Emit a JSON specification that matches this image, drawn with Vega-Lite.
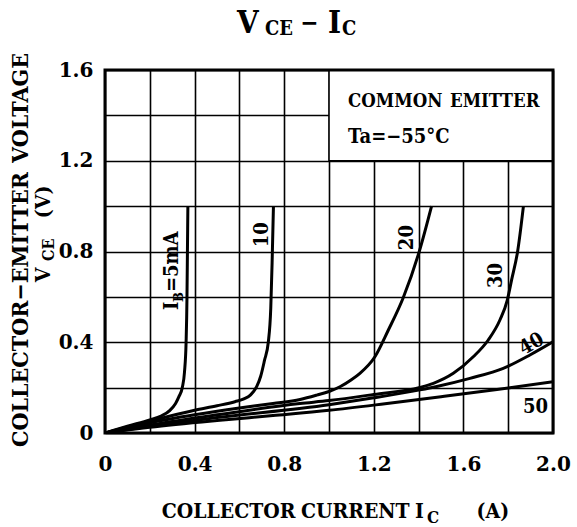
{
  "$schema": "https://vega.github.io/schema/vega-lite/v6.json",
  "width": 448,
  "height": 363,
  "autosize": {"type": "none"},
  "padding": {"left": 105, "top": 70, "right": 24, "bottom": 94},
  "background": "white",
  "config": {
    "view": {"stroke": null},
    "font": "DejaVu Serif Condensed, DejaVu Serif",
    "text": {"font": "DejaVu Serif Condensed, DejaVu Serif", "fontWeight": "bold", "color": "black"}
  },
  "datasets": {
    "curves": [
      {"ib": "5", "x": 0, "y": 0}, {"ib": "5", "x": 0.1, "y": 0.03}, {"ib": "5", "x": 0.2, "y": 0.058}, {"ib": "5", "x": 0.25, "y": 0.075}, {"ib": "5", "x": 0.29, "y": 0.1}, {"ib": "5", "x": 0.315, "y": 0.13}, {"ib": "5", "x": 0.33, "y": 0.16}, {"ib": "5", "x": 0.345, "y": 0.2}, {"ib": "5", "x": 0.355, "y": 0.27}, {"ib": "5", "x": 0.362, "y": 0.4}, {"ib": "5", "x": 0.366, "y": 0.6}, {"ib": "5", "x": 0.368, "y": 0.8}, {"ib": "5", "x": 0.37, "y": 1.0},
      {"ib": "10", "x": 0, "y": 0}, {"ib": "10", "x": 0.2, "y": 0.052}, {"ib": "10", "x": 0.4, "y": 0.1}, {"ib": "10", "x": 0.5, "y": 0.12}, {"ib": "10", "x": 0.58, "y": 0.138}, {"ib": "10", "x": 0.62, "y": 0.15}, {"ib": "10", "x": 0.65, "y": 0.168}, {"ib": "10", "x": 0.677, "y": 0.204}, {"ib": "10", "x": 0.695, "y": 0.25}, {"ib": "10", "x": 0.712, "y": 0.32}, {"ib": "10", "x": 0.729, "y": 0.4}, {"ib": "10", "x": 0.74, "y": 0.55}, {"ib": "10", "x": 0.746, "y": 0.75}, {"ib": "10", "x": 0.752, "y": 1.0},
      {"ib": "20", "x": 0, "y": 0}, {"ib": "20", "x": 0.2, "y": 0.045}, {"ib": "20", "x": 0.4, "y": 0.08}, {"ib": "20", "x": 0.6, "y": 0.11}, {"ib": "20", "x": 0.75, "y": 0.13}, {"ib": "20", "x": 0.871, "y": 0.148}, {"ib": "20", "x": 0.945, "y": 0.167}, {"ib": "20", "x": 1.0, "y": 0.183}, {"ib": "20", "x": 1.049, "y": 0.204}, {"ib": "20", "x": 1.1, "y": 0.235}, {"ib": "20", "x": 1.138, "y": 0.263}, {"ib": "20", "x": 1.205, "y": 0.336}, {"ib": "20", "x": 1.265, "y": 0.454}, {"ib": "20", "x": 1.33, "y": 0.593}, {"ib": "20", "x": 1.403, "y": 0.8}, {"ib": "20", "x": 1.458, "y": 1.0},
      {"ib": "30", "x": 0, "y": 0}, {"ib": "30", "x": 0.2, "y": 0.035}, {"ib": "30", "x": 0.5, "y": 0.08}, {"ib": "30", "x": 0.87, "y": 0.13}, {"ib": "30", "x": 1.0, "y": 0.143}, {"ib": "30", "x": 1.2, "y": 0.17}, {"ib": "30", "x": 1.406, "y": 0.201}, {"ib": "30", "x": 1.466, "y": 0.219}, {"ib": "30", "x": 1.555, "y": 0.263}, {"ib": "30", "x": 1.644, "y": 0.336}, {"ib": "30", "x": 1.711, "y": 0.41}, {"ib": "30", "x": 1.763, "y": 0.498}, {"ib": "30", "x": 1.796, "y": 0.586}, {"ib": "30", "x": 1.815, "y": 0.674}, {"ib": "30", "x": 1.842, "y": 0.8}, {"ib": "30", "x": 1.868, "y": 1.0},
      {"ib": "40", "x": 0, "y": 0}, {"ib": "40", "x": 0.2, "y": 0.03}, {"ib": "40", "x": 0.5, "y": 0.068}, {"ib": "40", "x": 1.0, "y": 0.125}, {"ib": "40", "x": 1.2, "y": 0.155}, {"ib": "40", "x": 1.406, "y": 0.19}, {"ib": "40", "x": 1.481, "y": 0.205}, {"ib": "40", "x": 1.629, "y": 0.241}, {"ib": "40", "x": 1.778, "y": 0.285}, {"ib": "40", "x": 1.897, "y": 0.344}, {"ib": "40", "x": 2.0, "y": 0.402},
      {"ib": "50", "x": 0, "y": 0}, {"ib": "50", "x": 0.2, "y": 0.025}, {"ib": "50", "x": 0.5, "y": 0.055}, {"ib": "50", "x": 0.75, "y": 0.077}, {"ib": "50", "x": 1.0, "y": 0.1}, {"ib": "50", "x": 1.25, "y": 0.129}, {"ib": "50", "x": 1.5, "y": 0.16}, {"ib": "50", "x": 1.75, "y": 0.192}, {"ib": "50", "x": 2.0, "y": 0.226}
    ],
    "box": [{"x": 1.0, "x2": 2.0, "y": 1.2, "y2": 1.6}],
    "frame": [{"x": 0, "x2": 2.0, "y": 0, "y2": 1.6}],
    "titleMain": [{"x": 0.589, "y": 1.762, "t": "V"}, {"x": 0.996, "y": 1.762, "t": "I"}],
    "titleDash": [{"x": 0.872, "y": 1.772, "t": "−"}],
    "titleSub": [{"x": 0.714, "y": 1.753, "t": "CE"}, {"x": 1.058, "y": 1.753, "t": "C"}],
    "flat18": [{"x": 1.085, "y": 1.436, "t": "COMMON"}, {"x": 1.54, "y": 1.436, "t": "EMITTER"}],
    "flat20": [{"x": 1.085, "y": 1.278, "t": "Ta=−55°C"}, {"x": 1.866, "y": 0.088, "t": "50"}],
    "rot20": [{"x": 0.326, "y": 0.542, "t": "I"}, {"x": 0.326, "y": 0.621, "t": "=5mA"}, {"x": 0.728, "y": 0.819, "t": "10"}, {"x": 1.375, "y": 0.806, "t": "20"}, {"x": 1.772, "y": 0.639, "t": "30"}],
    "rot13": [{"x": 0.346, "y": 0.577, "t": "B"}],
    "tilt": [{"x": 1.904, "y": 0.392, "t": "40"}],
    "xTitle": [{"x": 0.253, "y": -0.374, "t": "COLLECTOR"}, {"x": 0.875, "y": -0.374, "t": "CURRENT"}, {"x": 1.384, "y": -0.374, "t": "I"}, {"x": 1.659, "y": -0.374, "t": "(A)"}],
    "xTitleSub": [{"x": 1.4375, "y": -0.396, "t": "C"}],
    "yTitle": [{"x": -0.342, "y": -0.062, "t": "COLLECTOR−EMITTER"}, {"x": -0.342, "y": 1.19, "t": "VOLTAGE"}],
    "yTitle2": [{"x": -0.246, "y": 0.665, "t": "V"}, {"x": -0.246, "y": 0.947, "t": "(V)"}],
    "yTitleSub": [{"x": -0.228, "y": 0.758, "t": "CE"}]
  },
  "encoding": {
    "x": {
      "field": "x", "type": "quantitative",
      "scale": {"domain": [0, 2], "nice": false, "zero": false},
      "axis": {
        "values": [0, 0.2, 0.4, 0.6, 0.8, 1.0, 1.2, 1.4, 1.6, 1.8, 2.0],
        "grid": true, "gridColor": "black", "gridWidth": 1.6, "gridOpacity": 1,
        "domain": false, "ticks": false, "tickSize": 0,
        "labelExpr": "datum.value == 0 ? '0' : (round(datum.value * 10) % 4 == 0 ? format(datum.value, '.1f') : '')",
        "labelFont": "DejaVu Serif", "labelFontSize": 20, "labelFontWeight": "bold", "labelColor": "black",
        "labelPadding": 21, "labelFlush": false, "labelOverlap": false, "title": null
      }
    },
    "y": {
      "field": "y", "type": "quantitative",
      "scale": {"domain": [0, 1.6], "nice": false, "zero": false},
      "axis": {
        "values": [0, 0.2, 0.4, 0.6, 0.8, 1.0, 1.2, 1.4, 1.6],
        "grid": true, "gridColor": "black", "gridWidth": 1.6, "gridOpacity": 1,
        "domain": false, "ticks": false, "tickSize": 0,
        "labelExpr": "datum.value == 0 ? '0' : (round(datum.value * 10) % 4 == 0 ? format(datum.value, '.1f') : '')",
        "labelFont": "DejaVu Serif", "labelFontSize": 20, "labelFontWeight": "bold", "labelColor": "black",
        "labelPadding": 12, "labelFlush": false, "labelOverlap": false, "title": null
      }
    }
  },
  "layer": [
    {
      "data": {"name": "box"},
      "mark": {"type": "rect", "fill": "white", "stroke": "black", "strokeWidth": 1.6},
      "encoding": {"x2": {"field": "x2"}, "y2": {"field": "y2"}}
    },
    {
      "data": {"name": "curves"},
      "mark": {"type": "line", "interpolate": "monotone", "strokeWidth": 3, "color": "black", "clip": true},
      "encoding": {"detail": {"field": "ib", "type": "nominal"}}
    },
    {
      "data": {"name": "frame"},
      "mark": {"type": "rect", "fill": "transparent", "stroke": "black", "strokeWidth": 3},
      "encoding": {"x2": {"field": "x2"}, "y2": {"field": "y2"}}
    },
    {
      "data": {"name": "titleMain"},
      "mark": {"type": "text", "align": "left", "baseline": "alphabetic", "fontSize": 31},
      "encoding": {"text": {"field": "t", "type": "nominal"}}
    },
    {
      "data": {"name": "titleDash"},
      "mark": {"type": "text", "align": "left", "baseline": "alphabetic", "fontSize": 24},
      "encoding": {"text": {"field": "t", "type": "nominal"}}
    },
    {
      "data": {"name": "titleSub"},
      "mark": {"type": "text", "align": "left", "baseline": "alphabetic", "fontSize": 20},
      "encoding": {"text": {"field": "t", "type": "nominal"}}
    },
    {
      "data": {"name": "flat18"},
      "mark": {"type": "text", "align": "left", "baseline": "alphabetic", "fontSize": 18.5},
      "encoding": {"text": {"field": "t", "type": "nominal"}}
    },
    {
      "data": {"name": "flat20"},
      "mark": {"type": "text", "align": "left", "baseline": "alphabetic", "fontSize": 20},
      "encoding": {"text": {"field": "t", "type": "nominal"}}
    },
    {
      "data": {"name": "rot20"},
      "mark": {"type": "text", "align": "left", "baseline": "alphabetic", "fontSize": 20, "angle": 270},
      "encoding": {"text": {"field": "t", "type": "nominal"}}
    },
    {
      "data": {"name": "rot13"},
      "mark": {"type": "text", "align": "left", "baseline": "alphabetic", "fontSize": 13, "angle": 270},
      "encoding": {"text": {"field": "t", "type": "nominal"}}
    },
    {
      "data": {"name": "tilt"},
      "mark": {"type": "text", "align": "center", "baseline": "middle", "fontSize": 20, "angle": 330},
      "encoding": {"text": {"field": "t", "type": "nominal"}}
    },
    {
      "data": {"name": "xTitle"},
      "mark": {"type": "text", "align": "left", "baseline": "alphabetic", "fontSize": 21},
      "encoding": {"text": {"field": "t", "type": "nominal"}}
    },
    {
      "data": {"name": "xTitleSub"},
      "mark": {"type": "text", "align": "left", "baseline": "alphabetic", "fontSize": 17},
      "encoding": {"text": {"field": "t", "type": "nominal"}}
    },
    {
      "data": {"name": "yTitle"},
      "mark": {"type": "text", "align": "left", "baseline": "alphabetic", "fontSize": 23, "angle": 270},
      "encoding": {"text": {"field": "t", "type": "nominal"}}
    },
    {
      "data": {"name": "yTitle2"},
      "mark": {"type": "text", "align": "left", "baseline": "alphabetic", "fontSize": 21, "angle": 270},
      "encoding": {"text": {"field": "t", "type": "nominal"}}
    },
    {
      "data": {"name": "yTitleSub"},
      "mark": {"type": "text", "align": "left", "baseline": "alphabetic", "fontSize": 16, "angle": 270},
      "encoding": {"text": {"field": "t", "type": "nominal"}}
    }
  ]
}
